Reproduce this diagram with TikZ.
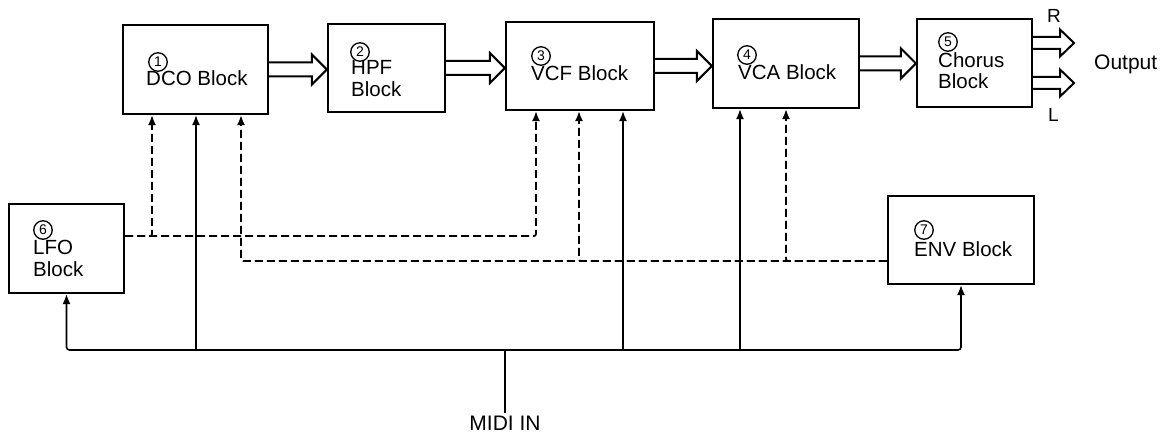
\documentclass[tikz,border=0pt]{standalone}
\usepackage{fontspec}
\setmainfont{Liberation Sans}
\usetikzlibrary{arrows.meta,calc}
\begin{document}
\begin{tikzpicture}[x=1pt,y=-1pt,
  block/.style={draw, line width=2.2pt, inner sep=0pt},
  circnum/.style={circle, draw, line width=1.3pt, inner sep=0pt, minimum size=18.5pt, font=\fontsize{14}{14}\selectfont},
  lbl/.style={anchor=base west, inner sep=0pt, font=\fontsize{20.5}{22}\selectfont},
  fat/.style={line width=2pt, line join=miter},
  ctrl/.style={line width=1.6pt},
  dashln/.style={line width=1.7pt, dash pattern=on 8pt off 4pt},
  tip/.style={-{Latex[length=10pt,width=8pt]}}
]
\useasboundingbox (0,0) rectangle (1167,435);
\newcommand\fatarrow[5]{%
  \draw[fat] let \p1=(#1), \p2=(#2) in
    (\x1,\y1+#3) -- (\x2-#5,\y1+#3) -- (\x2-#5,\y1+#4) -- (\x2,\y1)
    -- (\x2-#5,\y1-#4) -- (\x2-#5,\y1-#3) -- (\x1,\y1-#3);}

% blocks
\node[block, minimum width=145pt, minimum height=89pt] (dco) at (195.5,69.5) {};
\node[block, minimum width=117pt, minimum height=88pt] (hpf) at (386.5,68) {};
\node[block, minimum width=148pt, minimum height=88pt] (vcf) at (580,66) {};
\node[block, minimum width=146pt, minimum height=89pt] (vca) at (786,63.5) {};
\node[block, minimum width=115pt, minimum height=88pt] (chorus) at (974.5,63) {};
\node[block, minimum width=115pt, minimum height=89pt] (lfo) at (66.5,248.5) {};
\node[block, minimum width=146pt, minimum height=88pt] (env) at (961,240) {};

% circled numbers
\node[circnum] (c1) at (158,62) {1};
\node[circnum] (c2) at (360,52) {2};
\node[circnum] (c3) at (541,56) {3};
\node[circnum] (c4) at (747,55) {4};
\node[circnum] (c5) at (948,42) {5};
\node[circnum] (c6) at (43,230) {6};
\node[circnum] (c7) at (924,230) {7};

% block texts
\node[lbl] (tdco) at (146,86) {DCO Block};
\node[lbl] (thpf1) at (351,75) {HPF};
\node[lbl] (thpf2) at (351,97) {Block};
\node[lbl] (tvcf) at (531,81) {VCF Block};
\node[lbl] (tvca) at (738,80) {VCA Block};
\node[lbl] (tch1) at (938,68) {Chorus};
\node[lbl] (tch2) at (938,89) {Block};
\node[lbl] (tlfo1) at (33,255) {LFO};
\node[lbl] (tlfo2) at (33,277) {Block};
\node[lbl] (tenv) at (914,257) {ENV Block};

% output labels
\node[anchor=base west, inner sep=0pt, font=\fontsize{21}{21}\selectfont] (tout) at (1094,70) {Output};
\node[anchor=base west, inner sep=0pt, font=\fontsize{19}{19}\selectfont] (tR) at (1047,23) {R};
\node[anchor=base west, inner sep=0pt, font=\fontsize{19}{19}\selectfont] (tL) at (1048,122) {L};
\node[anchor=base, inner sep=0pt, outer sep=3pt, font=\fontsize{21}{21}\selectfont] (midiin) at (505,430) {MIDI IN};

% hollow signal arrows
\fatarrow{dco.east}{hpf.west}{7pt}{15pt}{15pt}
\fatarrow{hpf.east}{vcf.west}{7pt}{15pt}{15pt}
\fatarrow{vcf.east}{vca.west}{7pt}{15pt}{15pt}
\fatarrow{vca.east}{chorus.west}{7pt}{15pt}{15pt}
\coordinate (outR) at (1074,43);
\coordinate (outL) at (1074,83);
\fatarrow{$(chorus.east)+(0,-20)$}{outR}{6pt}{13.5pt}{14pt}
\fatarrow{$(chorus.east)+(0,20)$}{outL}{6pt}{13.5pt}{14pt}

% helper coordinates
\coordinate (yL) at (0,236);
\coordinate (yE) at (0,261);
\coordinate (yM) at (0,350);
\coordinate (xdA) at (152,0);
\coordinate (xdB) at (196,0);
\coordinate (xdC) at (241,0);
\coordinate (xvA) at (536,0);
\coordinate (xvB) at (579,0);
\coordinate (xvC) at (623,0);
\coordinate (xaA) at (740,0);
\coordinate (xaB) at (786,0);

% LFO modulation (dashed)
\draw[dashln, tip, rounded corners=2pt] (lfo.east |- yL) -| (vcf.south -| xvA);
\draw[dashln, tip, rounded corners=2pt] (lfo.east |- yL) -| (dco.south -| xdA);

% ENV modulation (dashed)
\draw[dashln, tip, rounded corners=2pt] (env.west |- yE) -| (dco.south -| xdC);
\draw[dashln, tip, rounded corners=2pt] (env.west |- yE) -| (vcf.south -| xvB);
\draw[dashln, tip, rounded corners=2pt] (env.west |- yE) -| (vca.south -| xaB);

% MIDI bus
\draw[ctrl, rounded corners=3pt, {Latex[length=10pt,width=8pt]}-{Latex[length=10pt,width=8pt]}]
  (lfo.south) |- (yM -| env.south) -- (env.south);
\draw[ctrl, tip] (xdB |- yM) -- (dco.south -| xdB);
\draw[ctrl, tip] (xvC |- yM) -- (vcf.south -| xvC);
\draw[ctrl, tip] (xaA |- yM) -- (vca.south -| xaA);
\draw[ctrl] (midiin.north) -- (midiin.north |- yM);
\end{tikzpicture}
\end{document}
